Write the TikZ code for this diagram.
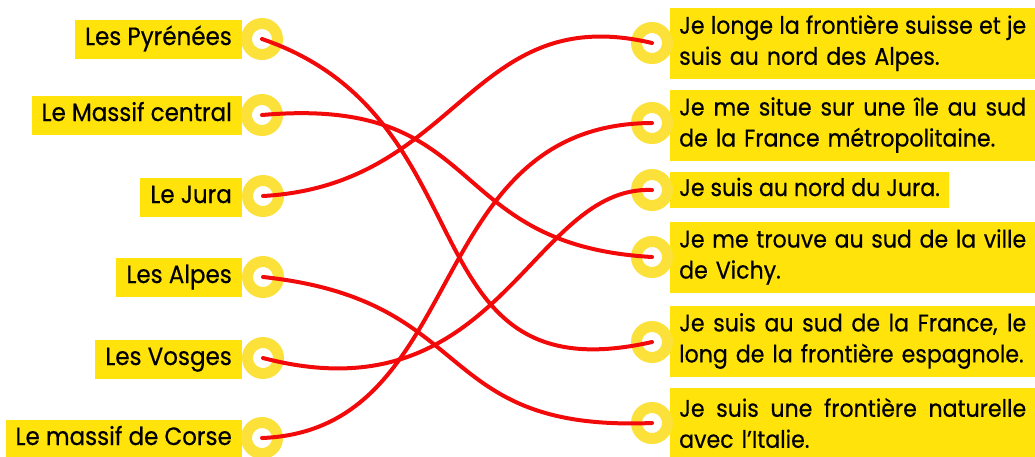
\documentclass[tikz,border=0pt]{standalone}
\usepackage{fontspec}
\setmainfont{Poppins}[FakeStretch=0.92,FakeBold=0.5]
\definecolor{boxy}{HTML}{FFE30A}
\definecolor{ringy}{HTML}{FBE13A}
\definecolor{linered}{HTML}{F20A0A}
\newcommand\jline[1]{\hbox to 347pt{\spaceskip=0.22em plus 1fil minus 0.1em\xspaceskip=\spaceskip\relax #1}}
\begin{document}
\begin{tikzpicture}[x=1pt,y=-1pt,
  txt/.style={font=\fontsize{24}{31}\selectfont},
  lbox/.style={font=\fontsize{25}{31}\selectfont, fill=boxy, anchor=east, inner xsep=10pt, inner ysep=0pt,
    text height=17pt, text depth=5pt, minimum height=39pt},
  rbox/.style={txt, fill=boxy, anchor=west, inner xsep=9pt, inner ysep=0pt,
    text width=347pt, align=left, minimum height=71pt},
  rboxs/.style={txt, fill=boxy, anchor=west, inner xsep=9pt, inner ysep=0pt,
    text height=17pt, text depth=5pt, minimum height=36pt},
  ring/.style={circle, draw=ringy, line width=11pt, fill=white, minimum size=31pt, inner sep=0pt},
  link/.style={draw=linered, line width=4pt, line cap=round}]
\useasboundingbox (0,0) rectangle (1035,456);
% left boxes
\node[lbox] (l1) at (242,39) {Les Pyrénées};
\node[lbox] (l2) at (242,115) {Le Massif central};
\node[lbox] (l3) at (242,197) {Le Jura};
\node[lbox] (l4) at (242,277) {Les Alpes};
\node[lbox] (l5) at (242,359) {Les Vosges};
\node[lbox] (l6) at (242,439) {Le massif de Corse};
% right boxes
\node[rbox] (r1) at (670,43) {\jline{Je longe la frontière suisse et je}\\suis au nord des Alpes.};
\node[rbox] (r2) at (670,125) {\jline{Je me situe sur une île au sud}\\de la France métropolitaine.};
\node[rboxs] (r3) at (670,190) {Je suis au nord du Jura.};
\node[rbox] (r4) at (670,257) {\jline{Je me trouve au sud de la ville}\\de Vichy.};
\node[rbox] (r5) at (670,341) {\jline{Je suis au sud de la France, le}\\long de la frontière espagnole.};
\node[rbox] (r6) at (670,423) {\jline{Je suis une frontière naturelle}\\avec l’Italie.};
% rings
\node[ring] (a1) at (262,39) {};
\node[ring] (a2) at (262,115) {};
\node[ring] (a3) at (263,196) {};
\node[ring] (a4) at (263,277) {};
\node[ring] (a5) at (263,358) {};
\node[ring] (a6) at (262,438) {};
\node[ring] (b1) at (652,43) {};
\node[ring] (b2) at (652,123) {};
\node[ring] (b3) at (652,190) {};
\node[ring] (b4) at (652,257) {};
\node[ring] (b5) at (652,342) {};
\node[ring] (b6) at (652,423) {};
% links
\draw[link] (a1.center) .. controls (493,118) and (404,398) .. (b5.center);
\draw[link] (a2.center) .. controls (490,95) and (440,245) .. (b4.center);
\draw[link] (a3.center) .. controls (460,185) and (470,0) .. (b1.center);
\draw[link] (a4.center) .. controls (480,300) and (430,432) .. (b6.center);
\draw[link] (a5.center) .. controls (500,420) and (530,185) .. (b3.center);
\draw[link] (a6.center) .. controls (470,430) and (420,124) .. (b2.center);
\end{tikzpicture}
\end{document}
